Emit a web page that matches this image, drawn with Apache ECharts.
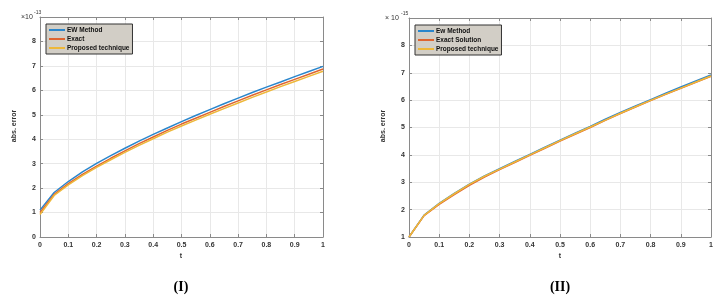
<!DOCTYPE html>
<html>
<head>
<meta charset="utf-8">
<script src="https://cdn.jsdelivr.net/npm/echarts@6/dist/echarts.min.js"></script>
<style>
html,body{margin:0;padding:0;background:#fff;}
#c{width:727px;height:303px;}
</style>
</head>
<body>
<div id="c"></div>
<script>
// ---- data ----
const tValues = [0,0.05,0.1,0.15,0.2,0.25,0.3,0.35,0.4,0.45,0.5,0.55,0.6,0.65,0.7,0.75,0.8,0.85,0.9,0.95,1];

// Panel (I), values x 1e-13
const ewI    = [1.10,1.82,2.27,2.66,3.01,3.33,3.63,3.92,4.20,4.46,4.72,4.97,5.21,5.45,5.68,5.91,6.13,6.34,6.56,6.77,6.98];
const exactI = [1.00,1.74,2.18,2.56,2.90,3.22,3.52,3.82,4.09,4.36,4.62,4.86,5.10,5.34,5.57,5.80,6.02,6.24,6.45,6.66,6.87];
const propI  = [0.92,1.70,2.13,2.51,2.85,3.16,3.46,3.75,4.02,4.29,4.54,4.78,5.02,5.25,5.48,5.71,5.93,6.15,6.36,6.57,6.78];

// Panel (II), values x 1e-15
const ewII    = [1.00,1.80,2.23,2.59,2.93,3.23,3.50,3.76,4.02,4.28,4.54,4.79,5.04,5.30,5.55,5.79,6.02,6.25,6.48,6.70,6.92];
const exactII = [1.00,1.78,2.19,2.55,2.89,3.19,3.46,3.72,3.98,4.24,4.50,4.75,5.00,5.26,5.51,5.75,5.98,6.21,6.43,6.65,6.87];
const propII  = [1.00,1.79,2.22,2.58,2.92,3.22,3.48,3.74,4.00,4.26,4.52,4.77,5.02,5.27,5.52,5.76,5.99,6.22,6.44,6.66,6.88];

const namesI  = ['EW Method','Exact','Proposed technique'];
const namesII = ['Ew Method','Exact Solution','Proposed technique'];
const colors  = ['#2a86cc','#de6530','#eeb83a'];

const xTickInterval = 0.1;
const yRangeI  = [0, 9];
const yRangeII = [1, 9];
const captions = ['(I)','(II)'];
const multipliers = [['×10','-13'],['× 10','-15']];
const yName = 'abs. error';
const xName = 't';

// ---- build ----
const pairs = arr => arr.map((v,i)=>[tValues[i], v]);
const FONT = 'Liberation Sans';
const tickLbl = {fontSize:7, fontWeight:'bold', color:'#333', fontFamily:FONT};

const grids = [
  {left:40, right:404, top:17, bottom:66},
  {left:409, right:16, top:18, bottom:66}
];

const xAxes = [], yAxes = [], series = [];
[yRangeI, yRangeII].forEach((yr, g) => {
  const baseX = {
    type:'value', gridIndex:g, min:0, max:1, interval:xTickInterval,
    axisLine:{show:true, onZero:false, lineStyle:{color:'#8a8a8a', width:1}},
    axisTick:{show:true, inside:true, length:3, lineStyle:{color:'#8a8a8a'}},
    splitLine:{show:false}
  };
  xAxes.push(Object.assign({}, baseX, {
    position:'bottom',
    axisLabel:Object.assign({margin:5, formatter:v=>String(+v.toFixed(2))}, tickLbl),
    splitLine:{show:true, lineStyle:{color:'#e8e8e8', width:1}}
  }));
  xAxes.push(Object.assign({}, baseX, {position:'top', axisLabel:{show:false}}));
  const baseY = {
    type:'value', gridIndex:g, min:yr[0], max:yr[1], interval:1,
    axisLine:{show:true, onZero:false, lineStyle:{color:'#8a8a8a', width:1}},
    axisTick:{show:true, inside:true, length:3, lineStyle:{color:'#8a8a8a'}},
    splitLine:{show:false}
  };
  yAxes.push(Object.assign({}, baseY, {
    position:'left',
    axisLabel:Object.assign({margin:4, formatter:v=>(v===yr[1]?'':String(v))}, tickLbl),
    splitLine:{show:true, lineStyle:{color:'#e8e8e8', width:1}}
  }));
  yAxes.push(Object.assign({}, baseY, {position:'right', axisLabel:{show:false}}));
});

const dataSets = [[ewI, exactI, propI],[ewII, exactII, propII]];
const nameSets = [namesI, namesII];
dataSets.forEach((ds, g) => {
  ds.forEach((arr, k) => {
    series.push({
      type:'line', name:nameSets[g][k], xAxisIndex:g*2, yAxisIndex:g*2,
      data:pairs(arr), showSymbol:false, smooth:false,
      lineStyle:{color:colors[k], width:1.5}, itemStyle:{color:colors[k]},
      animation:false, z:2+k
    });
  });
});

const legendCommon = {
  orient:'vertical', backgroundColor:'#d2cec6', borderColor:'#333', borderWidth:1,
  padding:[2,3,2,3], itemGap:1, itemWidth:16, itemHeight:2, icon:'rect',
  textStyle:{fontSize:6.5, fontWeight:'bold', color:'#111', fontFamily:FONT, lineHeight:8, padding:[0,0,0,-3]},
  selectedMode:false
};
const legends = [
  Object.assign({}, legendCommon, {left:46, top:24, data:namesI.map((n,k)=>({name:n, itemStyle:{color:colors[k]}}))}),
  Object.assign({}, legendCommon, {left:415, top:25, data:namesII.map((n,k)=>({name:n, itemStyle:{color:colors[k]}}))})
];

const centered = (x,y,text,size,weight,family,fill,rot) => ({type:'text', x:x, y:y, rotation:rot||0,
  style:{text:text, fill:fill||'#333', fontSize:size, fontWeight:weight, fontFamily:family, textAlign:'center', textVerticalAlign:'middle'}});
const gtext = (x,y,text,size) => ({type:'text', left:x, top:y, style:{text:text, fill:'#333', fontFamily:FONT, fontSize:size}});
const graphics = [
  gtext(21, 14, multipliers[0][0], 7),
  gtext(34, 10, multipliers[0][1], 5),
  gtext(385, 15, multipliers[1][0], 7),
  gtext(401, 11, multipliers[1][1], 5),
  centered(14, 126, yName, 7, 'bold', FONT, '#333', Math.PI/2),
  centered(383, 126, yName, 7, 'bold', FONT, '#333', Math.PI/2),
  centered(181, 256, xName, 7, 'bold', FONT),
  centered(560, 256, xName, 7, 'bold', FONT),
  centered(181, 287, captions[0], 14, 'bold', 'Liberation Serif', '#000'),
  centered(560, 287, captions[1], 14, 'bold', 'Liberation Serif', '#000')
];

const chart = echarts.init(document.getElementById('c'), null, {renderer:'canvas'});
chart.setOption({
  animation:false,
  backgroundColor:'#fff',
  grid:grids, xAxis:xAxes, yAxis:yAxes, series:series,
  legend:legends, graphic:graphics
});
</script>
</body>
</html>
